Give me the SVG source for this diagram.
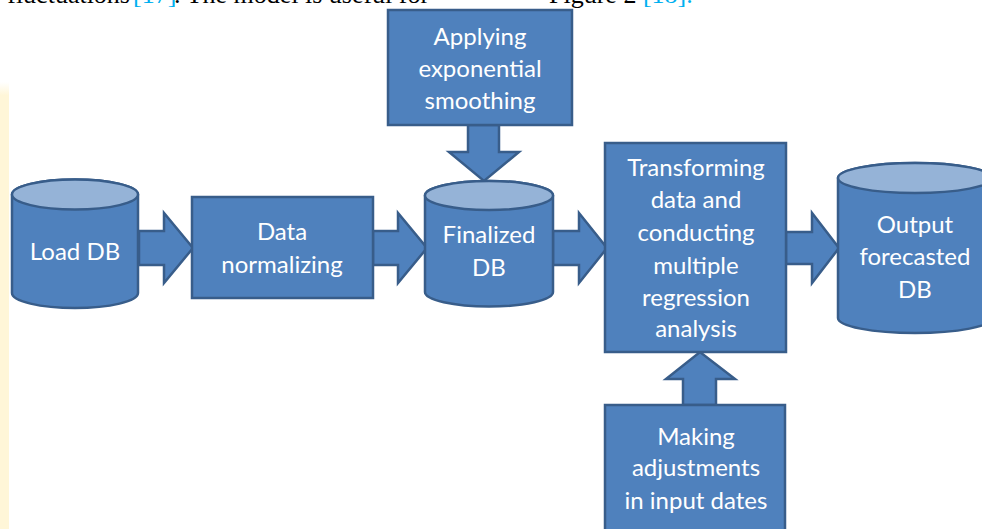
<svg xmlns="http://www.w3.org/2000/svg" width="982" height="529" viewBox="0 0 982 529">
<defs>
<style>
.shape{fill:#4f81bd;stroke:#385d8a;stroke-width:2.5;stroke-linejoin:miter}
.top{fill:#95b3d7;stroke:#385d8a;stroke-width:2.5}
.lbl{font-family:Lato,"Open Sans",sans-serif;font-size:24px;fill:#ffffff;text-anchor:middle}
.para{font-family:"Liberation Serif",serif;font-size:26px;fill:#000000}
.ref{fill:#00b0f0}
</style>
<linearGradient id="strip" x1="0" y1="0" x2="0" y2="1">
<stop offset="0" stop-color="#fff6d8" stop-opacity="0"/>
<stop offset="0.03" stop-color="#fff6d8" stop-opacity="1"/>
<stop offset="1" stop-color="#fff6d8" stop-opacity="1"/>
</linearGradient>
</defs>
<rect width="982" height="529" fill="#ffffff"/>
<rect x="0" y="82" width="9" height="447" fill="url(#strip)"/>
<g id="para-text">
<text class="para" x="130" y="3" text-anchor="end">fluctuations</text>
<text class="para ref" x="133" y="3">[17]</text>
<text class="para" x="174" y="3">. The model is useful for</text>
<text class="para" x="549" y="3">Figure 2 <tspan class="ref">[18].</tspan></text>
</g>
<g id="connectors">
<polygon class="shape" points="139,231 164,231 164,213 193,248 164,283 164,265 139,265"/>
<polygon class="shape" points="373,231 398,231 398,213 427,248 398,283 398,265 373,265"/>
<polygon class="shape" points="553,231 579,231 579,213 607,248 579,283 579,265 553,265"/>
<polygon class="shape" points="786,232 812,232 812,213 839,248 812,283 812,264 786,264"/>
<polygon class="shape" points="468,125 499,125 499,152 519,152 484,181 449,152 468,152"/>
<polygon class="shape" points="683,405 683,379 666,379 700,352 735,379 716,379 716,405"/>
</g>
<g id="load-db">
<path class="shape" d="M12,194.5 A63,15 0 0 1 138,194.5 L138,293 A63,15 0 0 1 12,293 Z"/>
<ellipse class="top" cx="75" cy="194.5" rx="63" ry="15"/>
<text class="lbl" x="75" y="260">Load DB</text>
</g>
<g id="data-normalizing">
<rect class="shape" x="192" y="197" width="181" height="101"/>
<text class="lbl" x="282" y="240">Data</text>
<text class="lbl" x="282" y="273">normalizing</text>
</g>
<g id="applying-smoothing">
<rect class="shape" x="388" y="10" width="184" height="115"/>
<text class="lbl" x="480" y="45">Applying</text>
<text class="lbl" x="480" y="77">exponential</text>
<text class="lbl" x="480" y="109">smoothing</text>
</g>
<g id="finalized-db">
<path class="shape" d="M425,195.5 A64,14.5 0 0 1 553,195.5 L553,292 A64,14.5 0 0 1 425,292 Z"/>
<ellipse class="top" cx="489" cy="195.5" rx="64" ry="14.5"/>
<text class="lbl" x="489" y="243">Finalized</text>
<text class="lbl" x="489" y="276">DB</text>
</g>
<g id="transforming">
<rect class="shape" x="605" y="143" width="181" height="209"/>
<text class="lbl" x="696" y="176">Transforming</text>
<text class="lbl" x="696" y="208">data and</text>
<text class="lbl" x="696" y="241">conducting</text>
<text class="lbl" x="696" y="274">multiple</text>
<text class="lbl" x="696" y="306">regression</text>
<text class="lbl" x="696" y="337">analysis</text>
</g>
<g id="output-db">
<path class="shape" d="M838,178 A77,15 0 0 1 992,178 L992,318 A77,15 0 0 1 838,318 Z"/>
<ellipse class="top" cx="915" cy="178" rx="77" ry="15"/>
<text class="lbl" x="915" y="233">Output</text>
<text class="lbl" x="915" y="265">forecasted</text>
<text class="lbl" x="915" y="298">DB</text>
</g>
<g id="making-adjustments">
<rect class="shape" x="605" y="405" width="180" height="140"/>
<text class="lbl" x="696" y="445">Making</text>
<text class="lbl" x="696" y="476">adjustments</text>
<text class="lbl" x="696" y="509">in input dates</text>
</g>
</svg>
